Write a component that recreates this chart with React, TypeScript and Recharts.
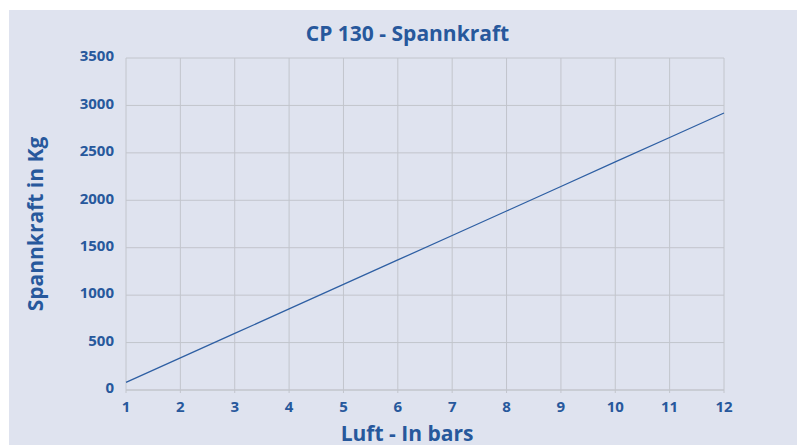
import { LineChart, Line, XAxis, YAxis, CartesianGrid } from 'recharts';

const pressureBars = [1, 2, 3, 4, 5, 6, 7, 8, 9, 10, 11, 12];
const clampForceKg = [80, 338, 596, 855, 1113, 1371, 1629, 1887, 2145, 2404, 2662, 2920];
const yTicks = [0, 500, 1000, 1500, 2000, 2500, 3000, 3500];

const chartTitle = 'CP 130 - Spannkraft';
const xTitle = 'Luft - In bars';
const yTitle = 'Spannkraft in Kg';

const blue = '#27589c';
const font = "'Open Sans', sans-serif";

const data = pressureBars.map((bar, i) => ({ bar, kg: clampForceKg[i] }));

function YLabel({ viewBox }: any) {
    const cy = viewBox.y + viewBox.height / 2;
    return <text x={26} y={cy} transform={`rotate(-90, 26, ${cy})`} textAnchor="middle" dominantBaseline="central"
        fill={blue} fontFamily={font} fontWeight={700} fontSize={21}>{yTitle}</text>;
}

function XLabel({ viewBox }: any) {
    return <text x={398} y={viewBox.y + 43} textAnchor="middle" dominantBaseline="central"
        fill={blue} fontFamily={font} fontWeight={700} fontSize={21}>{xTitle}</text>;
}

export default function App() {
    return <div style={{ position: 'relative', width: 797, height: 435, marginTop: 2, marginLeft: 1, background: '#dfe3ef' }}>
        <div style={{ position: 'absolute', top: 9, left: 0, width: 797, textAlign: 'center', color: blue, fontFamily: font, fontWeight: 700, fontSize: 21 }}>
            {chartTitle}
        </div>
        <LineChart width={797} height={435} data={data} margin={{ top: 48, right: 82, left: 0, bottom: 0 }}>
            <CartesianGrid stroke="#c2c5cc" strokeWidth={1} />
            <XAxis dataKey="bar" type="number" domain={[1, 12]} ticks={pressureBars} height={55}
                stroke="#c2c5cc" tickSize={3} tickMargin={8}
                tick={{ fill: blue, fontFamily: font, fontWeight: 700, fontSize: 15 }}
                label={<XLabel />} />
            <YAxis type="number" domain={[0, 3500]} ticks={yTicks} width={117} axisLine={false} tickLine={false}
                tickSize={0} tickMargin={12}
                tick={{ fill: blue, fontFamily: font, fontWeight: 700, fontSize: 15, dy: -2 }}
                label={<YLabel />} />
            <Line dataKey="kg" stroke="#2e5fa3" strokeWidth={1.3} dot={false} isAnimationActive={false} />
        </LineChart>
    </div>;
}
